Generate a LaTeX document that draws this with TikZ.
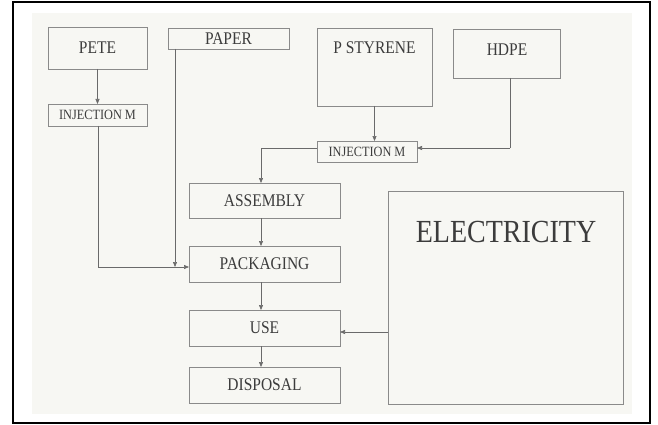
\documentclass[tikz,border=0pt]{standalone}
\usepackage{fontspec}
\usepackage{graphicx}
\setmainfont{Liberation Serif}
\usetikzlibrary{arrows.meta}
\definecolor{paperbg}{HTML}{F7F7F3}
\definecolor{boxline}{HTML}{8A8A8A}
\definecolor{conline}{HTML}{6A6A6A}
\definecolor{txtcol}{HTML}{3C3C3C}
\newcommand{\stx}[1]{\scalebox{1}[1.15]{#1}}
\begin{document}
\begin{tikzpicture}[x=1pt,y=-1pt,
  box/.style={draw=boxline, line width=0.7pt, fill=paperbg, inner sep=0pt, outer sep=0pt},
  txt/.style={text=txtcol, font=\fontsize{15.5}{18}\selectfont, inner sep=0pt},
  smalltxt/.style={text=txtcol, font=\fontsize{12.3}{14}\selectfont, inner sep=0pt},
  bigtxt/.style={text=txtcol, font=\fontsize{28}{32}\selectfont, inner sep=0pt},
  arr/.style={draw=conline, line width=0.6pt, -{Triangle[length=5pt,width=4pt]}},
  ln/.style={draw=conline, line width=0.6pt}]
\useasboundingbox (0,0) rectangle (658,425);
\fill[white] (0,0) rectangle (658,425);
\fill[paperbg] (32,13) rectangle (632,414);
\draw[black, line width=2pt] (13,2) rectangle (650,423);

% boxes
\node[box, minimum width=99pt, minimum height=42pt, text=txtcol, font=\fontsize{15.5}{18}\selectfont] (pete) at (97.5,48) {\stx{PETE}};
\node[box, minimum width=121pt, minimum height=21pt, text=txtcol, font=\fontsize{15.5}{18}\selectfont] (paper) at (228.5,38.5) {\stx{PAPER}};
\node[box, minimum width=99pt, minimum height=22pt, text=txtcol, font=\fontsize{12.3}{14}\selectfont] (injL) at (97.5,115) {\stx{INJECTION M}};
\node[box, minimum width=115pt, minimum height=78pt] (pst) at (374.5,67) {};
\node[txt] (psttxt) at (374.5,48) {\stx{P STYRENE}};
\node[box, minimum width=107pt, minimum height=49pt] (hdpe) at (506.5,53.5) {};
\node[txt] (hdpetxt) at (507,50) {\stx{HDPE}};
\node[box, minimum width=100pt, minimum height=21pt, text=txtcol, font=\fontsize{12.3}{14}\selectfont] (injM) at (367,151.5) {\stx{INJECTION M}};
\node[box, minimum width=151pt, minimum height=35pt, text=txtcol, font=\fontsize{15.5}{18}\selectfont] (asm) at (264.5,200.5) {\stx{ASSEMBLY}};
\node[box, minimum width=151pt, minimum height=36pt, text=txtcol, font=\fontsize{15.5}{18}\selectfont] (pack) at (264.5,264) {\stx{PACKAGING}};
\node[box, minimum width=151pt, minimum height=36pt, text=txtcol, font=\fontsize{15.5}{18}\selectfont] (use) at (264.5,328) {\stx{USE}};
\node[box, minimum width=151pt, minimum height=36pt, text=txtcol, font=\fontsize{15.5}{18}\selectfont] (disp) at (264.5,385) {\stx{DISPOSAL}};
\node[box, minimum width=235pt, minimum height=213pt] (elec) at (505.5,297.5) {};
\node[bigtxt] (electxt) at (506,232) {\stx{ELECTRICITY}};

% connectors
\coordinate (pj) at (175,267);
\coordinate (lj) at (98,267);
\draw[arr] (pete) -- (injL);
\draw[ln] (injL.south -| lj) -- (lj);
\draw[arr] (lj) -- (pack.west |- lj);
\draw[arr] (paper.south -| pj) -- (pj);
\draw[arr] (pst.south) -- (pst.south |- injM.north);
\coordinate (hj) at (510,148);
\draw[ln] (hdpe.south -| hj) -- (hj);
\draw[arr] (hj) -- (injM.east |- hj);
\coordinate (aj) at (261,148);
\draw[ln] (injM.west |- aj) -- (aj);
\draw[arr] (aj) -- (asm.north -| aj);
\draw[arr] (asm.south -| aj) -- (pack.north -| aj);
\draw[arr] (pack.south -| aj) -- (use.north -| aj);
\draw[arr] (use.south -| aj) -- (disp.north -| aj);
\coordinate (ej) at (388,332);
\draw[arr] (ej) -- (use.east |- ej);
\end{tikzpicture}
\end{document}
